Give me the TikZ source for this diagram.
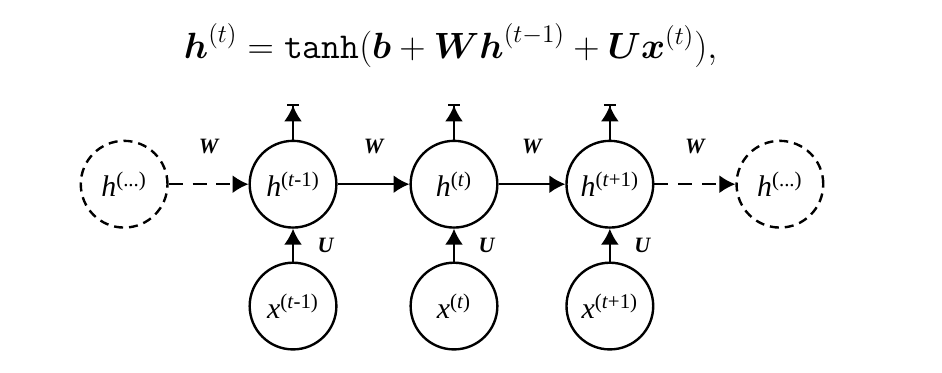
\documentclass[tikz,border=0pt]{standalone}
\usepackage{amsmath,amssymb}
\usepackage{fontspec}
\newfontfamily\tms{Liberation Serif}
\usetikzlibrary{arrows.meta}
\newcommand{\rnn}[2]{\textit{#1}\textsuperscript{(#2)}}

\begin{document}
\begin{tikzpicture}[
  unit/.style={circle, draw, line width=1.2pt, minimum size=1.53cm, inner sep=0pt, font=\tms\fontsize{15}{17}\selectfont},
  ghost/.style={unit, dash pattern=on 4.5pt off 3pt},
  flow/.style={-{Latex[length=8pt,width=9pt]}, line width=0.9pt},
  gflow/.style={flow, dash pattern=on 7pt off 5pt},
  outflow/.style={-{Latex[length=8pt,width=9pt]Bar[width=6pt]}, line width=0.9pt},
  wlab/.style={font=\tms\bfseries\itshape\fontsize{11}{13}\selectfont},
]
\useasboundingbox (0,0) rectangle (16.62,6.58);
\def\hy{3.33}   % hidden row y
\def\xy{1.18}   % input row y
\def\oy{4.75}   % output tips y

% update rule
\node[scale=1.06] (eq) at (7.95,5.78) {\LARGE $\boldsymbol{h}^{(t)} = \mathtt{tanh}(\boldsymbol{b} + \boldsymbol{W}\boldsymbol{h}^{(t-1)} + \boldsymbol{U}\boldsymbol{x}^{(t)}),$};

% ---- hidden states ----
\node[ghost] (h0) at (2.19,\hy)  {\rnn{h}{...}};
\node[unit]  (h1) at (5.17,\hy)  {\rnn{h}{\textit{t}-1}};
\node[unit]  (h2) at (8.01,\hy)  {\rnn{h}{\textit{t}}};
\node[unit]  (h3) at (10.76,\hy) {\rnn{h}{\textit{t}+1}};
\node[ghost] (h4) at (13.76,\hy) {\rnn{h}{...}};

% ---- inputs ----
\node[unit] (x1) at (5.17,\xy)  {\rnn{x}{\textit{t}-1}};
\node[unit] (x2) at (8.01,\xy)  {\rnn{x}{\textit{t}}};
\node[unit] (x3) at (10.76,\xy) {\rnn{x}{\textit{t}+1}};

\coordinate (o1) at (5.17,\oy);
\coordinate (o2) at (8.01,\oy);
\coordinate (o3) at (10.76,\oy);

% ---- recurrence ----
\draw[gflow] (h0) -- node[wlab, above=0.4cm] {W} (h1);
\draw[flow]  (h1) -- node[wlab, above=0.4cm] {W} (h2);
\draw[flow]  (h2) -- node[wlab, above=0.4cm] {W} (h3);
\draw[gflow] (h3) -- node[wlab, above=0.4cm] {W} (h4);

\foreach \i in {1,2,3}{
  \draw[flow] (x\i) -- node[wlab, right=0.3cm] {U} (h\i);
  \draw[outflow] (h\i) -- (o\i);
}
\end{tikzpicture}
\end{document}
